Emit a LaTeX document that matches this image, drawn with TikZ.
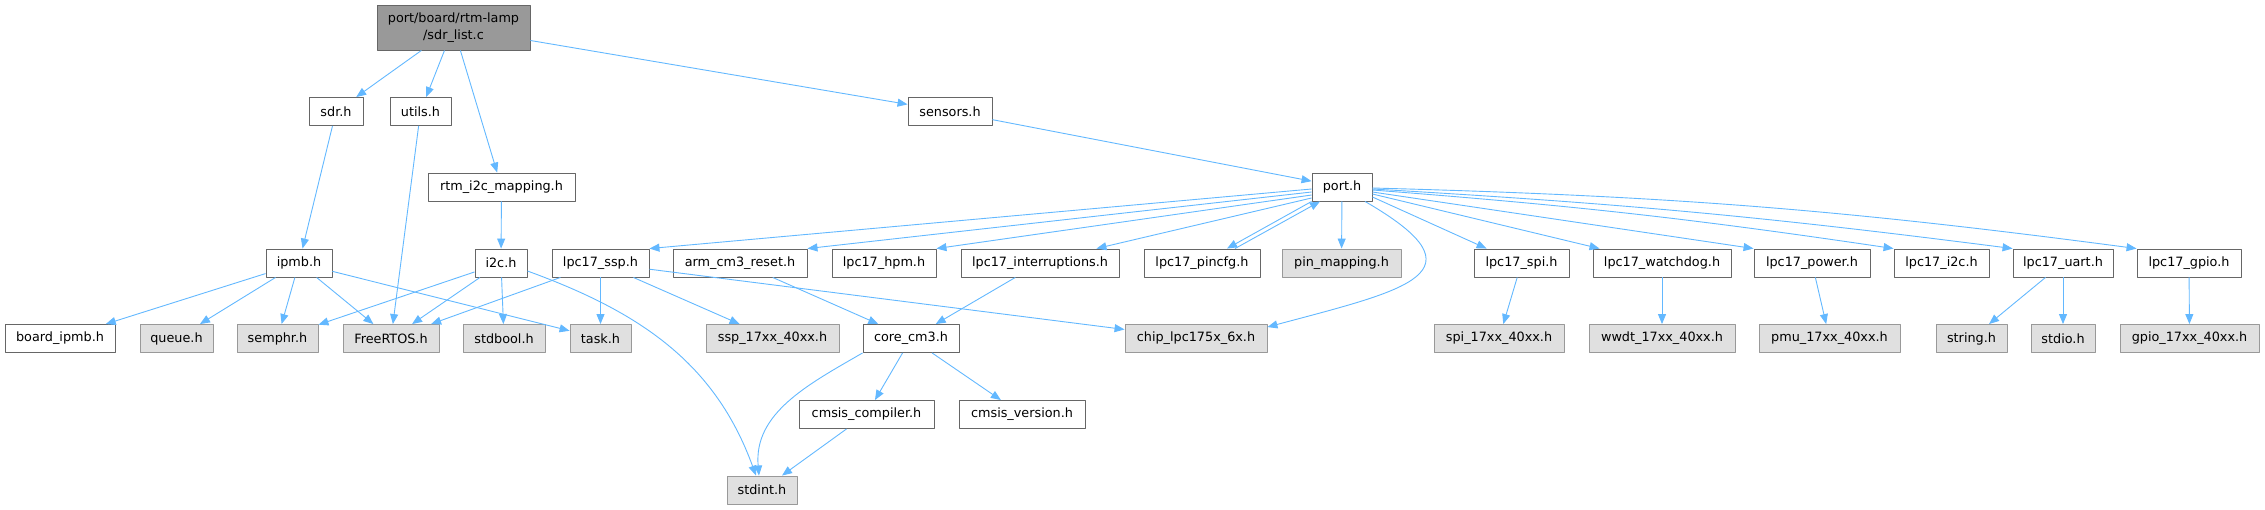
\documentclass[tikz,border=0pt]{standalone}
\usepackage{fontspec}
\setmainfont{DejaVu Sans}
\usetikzlibrary{arrows.meta}
\definecolor{edgeblue}{HTML}{63B8FF}
\definecolor{boxline}{HTML}{666666}
\definecolor{extfill}{HTML}{E0E0E0}
\definecolor{extline}{HTML}{999999}
\begin{document}
\begin{tikzpicture}[x=1pt, y=-1pt, line join=round, >={Triangle[length=10pt,width=8pt]},
	file/.style={draw=boxline, fill=white, line width=0.9pt, minimum height=28, inner sep=0pt, font=\fontsize{12.8}{17}\selectfont},
	ext/.style={file, draw=extline, fill=extfill},
	root/.style={file, fill=extline, minimum height=45, align=center},
	edge/.style={->, draw=edgeblue, line width=0.9pt}]
	\useasboundingbox (0,0) rectangle (2265,509);
	
	\node[root, minimum width=153] (sdrlist) at (453.5,27.5) {port/board/rtm-lamp\\/sdr\_list.c};
	
	\foreach \n/\x/\w/\t in {sdr/336/54/sdr.h, utils/420.5/61/utils.h, sensors/950/84/sensors.h}
		\node[file, minimum width=\w] (\n) at (\x,111.5) {\t};
	\node[file, minimum width=147] (rtmi2c) at (501.5,187) {rtm\_i2c\_mapping.h};
	\node[file, minimum width=60] (port) at (1342,187) {port.h};
	
	\foreach \n/\x/\w/\t in {ipmb/299/66/ipmb.h, i2c/501/52/i2c.h, lpcssp/600.5/97/lpc17\_ssp.h,
		armreset/740/134/arm\_cm3\_reset.h, hpm/884/104/lpc17\_hpm.h, interrupts/1040/158/lpc17\_interruptions.h,
		pincfg/1202/116/lpc17\_pincfg.h, spi/1521.5/95/lpc17\_spi.h, watchdog/1662/138/lpc17\_watchdog.h,
		power/1812/116/lpc17\_power.h, lpci2c/1941.5/95/lpc17\_i2c.h, uart/2063/100/lpc17\_uart.h, gpio/2189/104/lpc17\_gpio.h}
		\node[file, minimum width=\w] (\n) at (\x,263) {\t};
	\node[ext, minimum width=119] (pinmap) at (1341.5,263) {pin\_mapping.h};
	
	\node[file, minimum width=110] (boardipmb) at (60,338.5) {board\_ipmb.h};
	\node[file, minimum width=96] (corecm3) at (911,338.5) {core\_cm3.h};
	\foreach \n/\x/\w/\t in {queue/176.5/73/queue.h, semphr/277.5/81/semphr.h, freertos/391/96/FreeRTOS.h,
		stdbool/504/82/stdbool.h, task/600.5/61/task.h, sspxx/772.5/133/ssp\_17xx\_40xx.h,
		chip/1196/142/chip\_lpc175x\_6x.h, spixx/1499/130/spi\_17xx\_40xx.h, wwdt/1662/146/wwdt\_17xx\_40xx.h,
		pmu/1829.5/141/pmu\_17xx\_40xx.h, string/1971.5/71/string.h, stdio/2063/64/stdio.h, gpioxx/2189.5/139/gpio\_17xx\_40xx.h}
		\node[ext, minimum width=\w] (\n) at (\x,338.5) {\t};
	
	\node[file, minimum width=135] (cmsiscomp) at (866.5,414.5) {cmsis\_compiler.h};
	\node[file, minimum width=126] (cmsisver) at (1022,414.5) {cmsis\_version.h};
	\node[ext, minimum width=70] (stdint) at (762,490) {stdint.h};
	
	\foreach \a/\b in {sdrlist/sdr, sdrlist/utils, sdrlist/rtmi2c, sdrlist/sensors, sdr/ipmb, utils/freertos,
		rtmi2c/i2c, sensors/port, ipmb/boardipmb, ipmb/queue, ipmb/semphr, ipmb/freertos, ipmb/task,
		i2c/semphr, i2c/freertos, i2c/stdbool, lpcssp/freertos, lpcssp/task, lpcssp/sspxx, lpcssp/chip,
		armreset/corecm3, interrupts/corecm3, corecm3/cmsiscomp, corecm3/cmsisver, cmsiscomp/stdint,
		spi/spixx, watchdog/wwdt, power/pmu, uart/string, uart/stdio, gpio/gpioxx, port/pinmap}
		\draw[edge] (\a) -- (\b);
	
	% port.h fan-out
	\draw[edge] ([yshift=-2]port.west) -- (lpcssp.north east);
	\draw[edge] ([yshift=-5]port.west) -- (armreset.north east);
	\draw[edge] ([yshift=-8]port.west) -- (hpm.north east);
	\draw[edge] ([yshift=-11]port.west) -- ([xshift=-23]interrupts.north east);
	\draw[edge] (port.south west) -- ([xshift=25]pincfg.north);
	\draw[edge] ([xshift=33]pincfg.north) -- ([xshift=-22]port.south);
	\draw[edge] ([xshift=23]port.south) to[out=-30, in=15, looseness=2.3] ([yshift=-3]chip.north east);
	\draw[edge] ([yshift=-10]port.east) -- ([xshift=13]spi.north west);
	\draw[edge] ([yshift=-7]port.east) -- ([xshift=7]watchdog.north west);
	\draw[edge] ([yshift=-5]port.east) -- (power.north west);
	\draw[edge] ([yshift=-3]port.east) to[bend left=2] (lpci2c.north west);
	\draw[edge] ([yshift=-2]port.east) to[bend left=2] (uart.north west);
	\draw[edge] ([yshift=-1]port.east) to[bend left=3] (gpio.north west);
	
	\draw[edge] ([yshift=-8]i2c.east) to[out=-20, in=110] ([xshift=-6]stdint.north);
	\draw[edge] (corecm3.south west) to[out=-150, in=95] ([xshift=-3]stdint.north);
\end{tikzpicture}
\end{document}
